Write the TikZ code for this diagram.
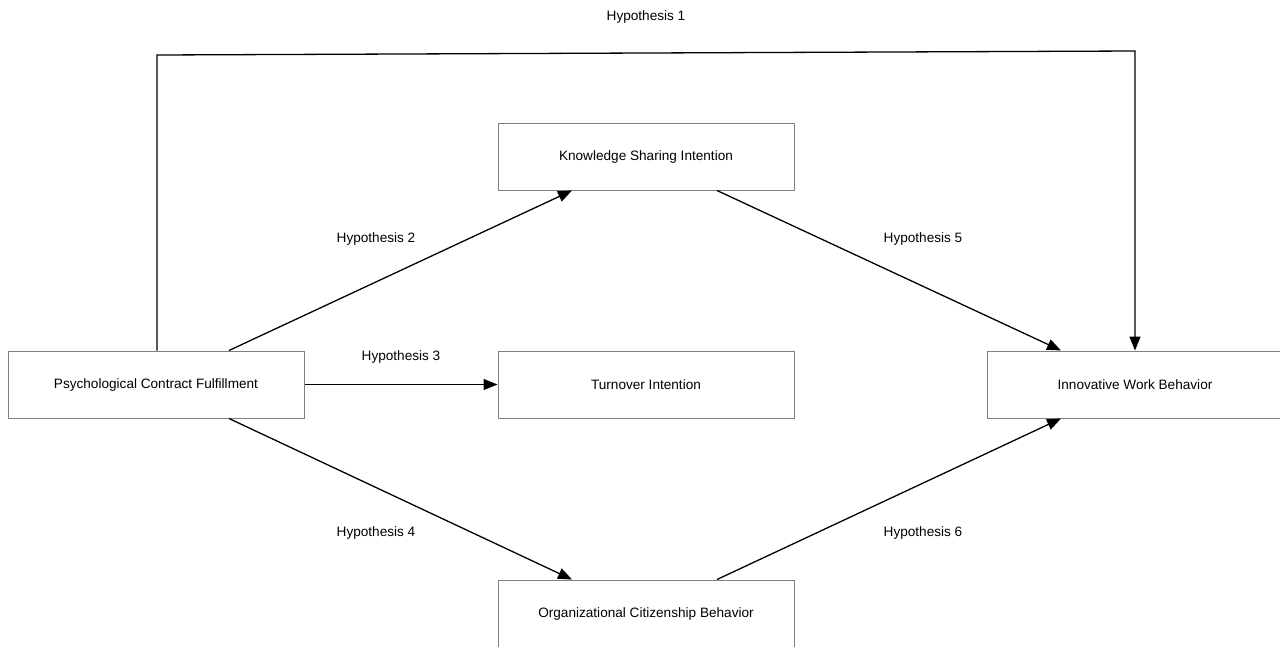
\documentclass[tikz,border=0pt]{standalone}
\usepackage{fontspec}
\setmainfont{Liberation Sans}
\usetikzlibrary{arrows.meta}
\begin{document}
\begin{tikzpicture}[x=1pt,y=-1pt,
  box/.style={draw=black!50,line width=1pt,fill=white,minimum width=296pt,minimum height=67pt,inner sep=0pt,font=\fontsize{13.6}{15}\selectfont},
  lbl/.style={font=\fontsize{13.6}{15}\selectfont,inner sep=0pt},
  conn/.style={line width=1.3pt,-{Triangle[length=14pt,width=11pt]}}]
\clip (0,0) rectangle (1280,646);
\fill[white] (0,0) rectangle (1280,646);
\node[box] (pcf) at (156,384.5) {Psychological Contract Fulfillment};
\node[box] (ksi) at (646,156.5) {Knowledge Sharing Intention};
\node[box] (ti) at (646,384.5) {Turnover Intention};
\node[box] (iwb) at (1135,384.5) {Innovative Work Behavior};
\node[box] (ocb) at (646,613.5) {Organizational Citizenship Behavior};
\coordinate (c1) at (157,55);
\coordinate (c2) at (1135,51);
\draw[conn] ([xshift=1pt]pcf.north) -- (c1) -- (c2) -- (iwb.north);
\draw[conn] ([xshift=73pt]pcf.north) -- ([xshift=-74pt]ksi.south);
\draw[conn] ([xshift=71pt]ksi.south) -- ([xshift=-74pt]iwb.north);
\draw[conn] (pcf.east) -- (ti.west);
\draw[conn] ([xshift=73pt]pcf.south) -- ([xshift=-74pt]ocb.north);
\draw[conn] ([xshift=71pt]ocb.north) -- ([xshift=-74pt]iwb.south);
\node[lbl] (h1) at (646,17) {Hypothesis 1};
\node[lbl] (h2) at (376,239) {Hypothesis 2};
\node[lbl] (h3) at (401,357) {Hypothesis 3};
\node[lbl] (h4) at (376,533) {Hypothesis 4};
\node[lbl] (h5) at (923,239) {Hypothesis 5};
\node[lbl] (h6) at (923,533) {Hypothesis 6};
\end{tikzpicture}
\end{document}
